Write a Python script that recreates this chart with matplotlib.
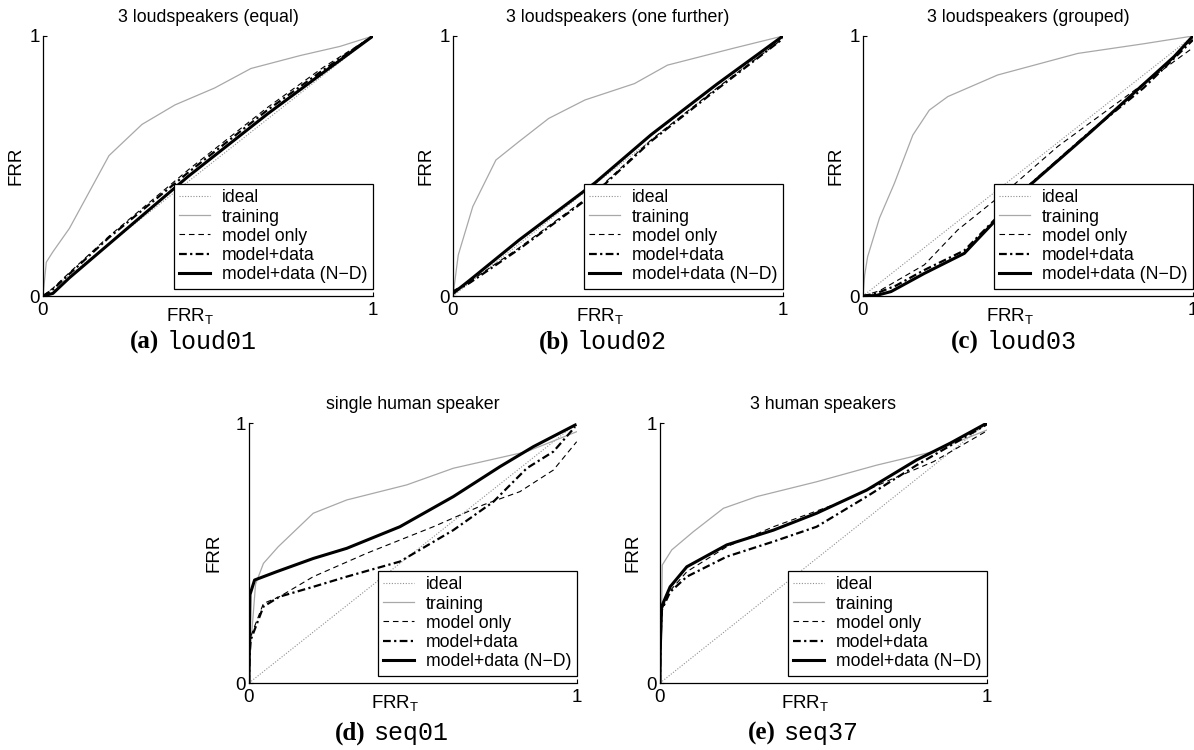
import numpy as np
import matplotlib
matplotlib.use("Agg")
import matplotlib.pyplot as plt

plt.rcParams['font.family'] = ['Liberation Sans', 'DejaVu Sans']
plt.rcParams['mathtext.fontset'] = 'custom'
plt.rcParams['mathtext.rm'] = 'Liberation Sans'
plt.rcParams['mathtext.it'] = 'Liberation Sans'

labels = ['ideal', 'training', 'model only', 'model+data', 'model+data (N\u2212D)']

# loud01: 3 loudspeakers (equal)
loud01_train_x = [0, 0.01, 0.03, 0.08, 0.2, 0.3, 0.4, 0.52, 0.63, 0.78, 0.9, 1.0]
loud01_train_y = [0, 0.13, 0.17, 0.26, 0.54, 0.66, 0.735, 0.80, 0.875, 0.925, 0.96, 1.0]
loud01_x = [0, 0.03, 0.08, 0.2, 0.44, 0.68, 0.85, 1.0]
loud01_model = [0, 0.03, 0.09, 0.23, 0.485, 0.725, 0.88, 1.0]
loud01_mdata = [0, 0.025, 0.085, 0.225, 0.475, 0.715, 0.87, 1.0]
loud01_nd = [0, 0.01, 0.07, 0.2, 0.46, 0.70, 0.86, 1.0]

# loud02: 3 loudspeakers (one further)
loud02_train_x = [0, 0.01, 0.016, 0.06, 0.13, 0.2, 0.29, 0.4, 0.55, 0.65, 0.85, 1.0]
loud02_train_y = [0, 0.1, 0.158, 0.344, 0.523, 0.594, 0.683, 0.754, 0.817, 0.888, 0.953, 1.0]
loud02_x = [0, 0.05, 0.2, 0.43, 0.6, 0.8, 1.0]
loud02_model = [0.02, 0.055, 0.185, 0.40, 0.60, 0.80, 0.99]
loud02_mdata = [0.015, 0.05, 0.18, 0.395, 0.595, 0.795, 0.99]
loud02_nd = [0.01, 0.06, 0.215, 0.435, 0.62, 0.815, 1.0]

# loud03: 3 loudspeakers (grouped)
loud03_train_x = [0, 0.005, 0.014, 0.05, 0.095, 0.151, 0.201, 0.257, 0.408, 0.651, 0.85, 1.0]
loud03_train_y = [0, 0.08, 0.151, 0.30, 0.433, 0.619, 0.715, 0.767, 0.85, 0.933, 0.97, 1.0]
loud03_model_x = [0, 0.05, 0.186, 0.287, 0.45, 0.59, 0.8, 1.0]
loud03_model = [0, 0.02, 0.12, 0.254, 0.42, 0.575, 0.77, 0.955]
loud03_mdata_x = [0, 0.04, 0.1, 0.186, 0.307, 0.489, 0.691, 0.85, 1.0]
loud03_mdata = [0, 0.01, 0.04, 0.1, 0.175, 0.41, 0.635, 0.80, 0.985]
loud03_nd_x = [0, 0.04, 0.085, 0.186, 0.307, 0.489, 0.691, 0.943, 1.0]
loud03_nd = [0, 0.002, 0.017, 0.087, 0.164, 0.408, 0.632, 0.921, 1.0]

# seq01: single human speaker
seq01_train_x = [0, 0.003, 0.008, 0.02, 0.044, 0.089, 0.196, 0.298, 0.481, 0.623, 0.847, 1.0]
seq01_train_y = [0, 0.1, 0.185, 0.38, 0.46, 0.524, 0.653, 0.704, 0.762, 0.826, 0.89, 0.967]
seq01_model_x = [0, 0.002, 0.005, 0.044, 0.093, 0.196, 0.359, 0.562, 0.714, 0.826, 0.928, 0.999]
seq01_model = [0, 0.12, 0.178, 0.306, 0.332, 0.409, 0.499, 0.601, 0.685, 0.736, 0.819, 0.928]
seq01_mdata_x = [0, 0.002, 0.005, 0.044, 0.093, 0.196, 0.298, 0.46, 0.623, 0.745, 0.847, 0.928, 0.994]
seq01_mdata = [0, 0.11, 0.165, 0.294, 0.332, 0.37, 0.409, 0.467, 0.588, 0.697, 0.826, 0.89, 0.985]
seq01_nd_x = [0, 0.001, 0.003, 0.017, 0.084, 0.196, 0.298, 0.46, 0.623, 0.765, 0.867, 0.994]
seq01_nd = [0, 0.15, 0.34, 0.396, 0.428, 0.479, 0.518, 0.601, 0.717, 0.832, 0.909, 0.992]

# seq37: 3 human speakers
seq37_train_x = [0, 0.004, 0.007, 0.036, 0.102, 0.194, 0.296, 0.479, 0.663, 0.836, 1.0]
seq37_train_y = [0, 0.2, 0.454, 0.512, 0.582, 0.672, 0.717, 0.774, 0.838, 0.89, 0.973]
seq37_model_x = [0, 0.001, 0.005, 0.031, 0.082, 0.204, 0.347, 0.53, 0.703, 0.836, 1.0]
seq37_model = [0, 0.13, 0.28, 0.355, 0.428, 0.524, 0.601, 0.685, 0.781, 0.851, 0.97]
seq37_mdata_x = [0, 0.001, 0.005, 0.031, 0.082, 0.204, 0.347, 0.479, 0.632, 0.785, 1.0]
seq37_mdata = [0, 0.12, 0.28, 0.35, 0.409, 0.486, 0.544, 0.601, 0.717, 0.838, 0.995]
seq37_nd_x = [0, 0.001, 0.005, 0.031, 0.082, 0.204, 0.347, 0.479, 0.632, 0.785, 0.887, 1.0]
seq37_nd = [0, 0.14, 0.294, 0.37, 0.447, 0.531, 0.588, 0.653, 0.742, 0.858, 0.922, 1.0]

W, H = 1194, 750
fig = plt.figure(figsize=(W / 100, H / 100), dpi=100)


def px_axes(left, top, width, height):
    return fig.add_axes([left / W, 1 - (top + height) / H, width / W, height / H])


def roc_panel(ax, title, train, model, mdata, nd, ylab_off=27):
    ax.plot([0, 1], [0, 1], color='#909090', lw=0.8, ls=(0, (1, 1.5)))
    ax.plot(train[0], train[1], color='#a8a8a8', lw=0.9)
    ax.plot(model[0], model[1], color='k', lw=0.8, ls=(0, (5, 3.5)))
    ax.plot(mdata[0], mdata[1], color='k', lw=1.6, ls=(0, (3.5, 1.5, 1, 1.5)))
    ax.plot(nd[0], nd[1], color='k', lw=2.2)
    ax.set_xlim(0, 1)
    ax.set_ylim(0, 1)
    ax.set_xticks([0, 1])
    ax.set_yticks([0, 1])
    ax.set_xticklabels(['0', '1'])
    ax.set_yticklabels(['0', '1'])
    ax.tick_params(direction='in', length=3, width=0.8, labelsize=13.5)
    ax.tick_params(axis='x', pad=4)
    ax.tick_params(axis='y', pad=2)
    for s in ['top', 'right']:
        ax.spines[s].set_visible(False)
    for s in ['left', 'bottom']:
        ax.spines[s].set_linewidth(0.9)
    ax.set_title(title, fontsize=12.8, pad=10)
    ax.set_ylabel('FRR', fontsize=13.5, va='center')
    ax.yaxis.set_label_coords(-ylab_off / 330, 0.5)
    ax.set_xlabel('FRR$_\\mathrm{T}$', fontsize=13.5, va='top')
    ax.xaxis.set_label_coords(0.445, -0.04)
    leg = ax.legend(labels, loc='lower right', bbox_to_anchor=(1, 0.028),
                    borderaxespad=0, fontsize=12.7, frameon=True, fancybox=False,
                    framealpha=1, edgecolor='k', handlelength=1.75,
                    handletextpad=0.65, labelspacing=0.12, borderpad=0.33)
    leg.get_frame().set_linewidth(0.9)


ax_a = px_axes(43, 36, 330, 260)
roc_panel(ax_a, '3 loudspeakers (equal)', (loud01_train_x, loud01_train_y),
          (loud01_x, loud01_model), (loud01_x, loud01_mdata), (loud01_x, loud01_nd))
ax_b = px_axes(453, 36, 330, 260)
roc_panel(ax_b, '3 loudspeakers (one further)', (loud02_train_x, loud02_train_y),
          (loud02_x, loud02_model), (loud02_x, loud02_mdata), (loud02_x, loud02_nd))
ax_c = px_axes(863, 36, 330, 260)
roc_panel(ax_c, '3 loudspeakers (grouped)', (loud03_train_x, loud03_train_y),
          (loud03_model_x, loud03_model), (loud03_mdata_x, loud03_mdata),
          (loud03_nd_x, loud03_nd))
ax_d = px_axes(249, 423, 328, 260)
roc_panel(ax_d, 'single human speaker', (seq01_train_x, seq01_train_y),
          (seq01_model_x, seq01_model), (seq01_mdata_x, seq01_mdata),
          (seq01_nd_x, seq01_nd), ylab_off=35)
ax_e = px_axes(660, 423, 327, 260)
roc_panel(ax_e, '3 human speakers', (seq37_train_x, seq37_train_y),
          (seq37_model_x, seq37_model), (seq37_mdata_x, seq37_mdata),
          (seq37_nd_x, seq37_nd))

# sub-figure captions
captions = [('(a)', 'loud01', 190, 342), ('(b)', 'loud02', 600, 342),
            ('(c)', 'loud03', 1010, 342), ('(d)', 'seq01', 397, 733),
            ('(e)', 'seq37', 807, 733)]
for tag, name, cx, cy in captions:
    fig.text((cx - 31) / W, 1 - cy / H, tag, ha='right', va='center',
             fontsize=18, fontweight='bold', family='Liberation Serif')
    fig.text((cx - 23) / W, 1 - cy / H, name, ha='left', va='center',
             fontsize=18, family='Liberation Mono')

fig.savefig('out.png', dpi=100)
